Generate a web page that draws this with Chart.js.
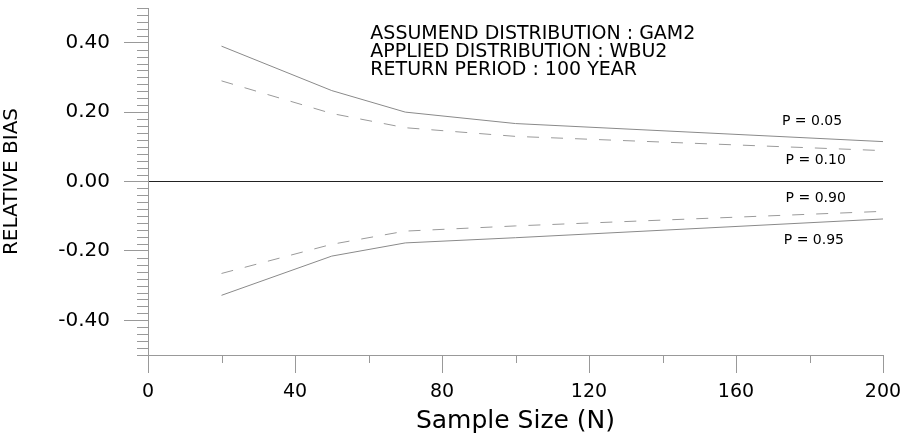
<!DOCTYPE html>
<html>
<head>
<meta charset="utf-8">
<script src="https://cdn.jsdelivr.net/npm/chart.js@4/dist/chart.umd.min.js"></script>
<style>
    html, body { margin: 0; padding: 0; background: #fff; }
    #wrap { width: 907px; height: 436px; }
</style>
</head>
<body>
<div id="wrap"><canvas id="biasChart"></canvas></div>
<script>
// Sample sizes and relative bias per non-exceedance probability
const sampleSizes = [20, 50, 70, 100, 200];
const biasP05 = [0.390, 0.262, 0.200, 0.167, 0.115];
const biasP10 = [0.290, 0.196, 0.155, 0.130, 0.089];
const biasP90 = [-0.265, -0.181, -0.143, -0.128, -0.086];
const biasP95 = [-0.328, -0.215, -0.177, -0.162, -0.108];

const curveLabels = ['P = 0.05', 'P = 0.10', 'P = 0.90', 'P = 0.95'];
const noteLines = ['ASSUMEND DISTRIBUTION : GAM2', 'APPLIED DISTRIBUTION : WBU2', 'RETURN PERIOD : 100 YEAR'];

const xTicks = [0, 40, 80, 120, 160, 200];
const yTicks = [-0.4, -0.2, 0, 0.2, 0.4];

const FONT = 'DejaVu Sans';
const AXIS_GRAY = '#999999';

function toPoints(values) {
    return sampleSizes.map((n, i) => ({ x: n, y: values[i] }));
}

function isMajorY(v) {
    return yTicks.some(t => Math.abs(t - v) < 1e-6);
}

// minor ticks, curve labels and the note block
const extrasPlugin = {
    id: 'extras',
    afterDraw(chart) {
        const ctx = chart.ctx;
        const xs = chart.scales.x;
        const ys = chart.scales.y;
        const area = chart.chartArea;
        ctx.save();
        ctx.strokeStyle = AXIS_GRAY;
        ctx.lineWidth = 1;
        ctx.beginPath();
        for (let i = -25; i <= 25; i++) {
            const v = i * 0.02;
            if (isMajorY(v)) continue;
            const py = Math.round(ys.getPixelForValue(v)) + 0.5;
            ctx.moveTo(area.left - 11, py);
            ctx.lineTo(area.left, py);
        }
        for (let n = 20; n < 200; n += 40) {
            const px = Math.round(xs.getPixelForValue(n)) + 0.5;
            ctx.moveTo(px, area.bottom);
            ctx.lineTo(px, area.bottom + 8);
        }
        ctx.stroke();

        ctx.fillStyle = '#000';
        ctx.textBaseline = 'middle';
        ctx.textAlign = 'left';
        ctx.font = '14px "' + FONT + '"';
        const labelAt = [[172.5, 0.173], [173.5, 0.060], [173.5, -0.049], [173, -0.170]];
        curveLabels.forEach((txt, i) => {
            ctx.fillText(txt, xs.getPixelForValue(labelAt[i][0]), ys.getPixelForValue(labelAt[i][1]));
        });

        ctx.font = '19px "' + FONT + '"';
        const nx = xs.getPixelForValue(60.5);
        const ny = ys.getPixelForValue(0.426);
        noteLines.forEach((txt, i) => {
            ctx.fillText(txt, nx, ny + i * 18);
        });
        ctx.restore();
    }
};

Chart.defaults.color = '#000';
Chart.defaults.font.family = FONT;

new Chart(document.getElementById('biasChart'), {
    type: 'line',
    data: {
        datasets: [
            { label: curveLabels[0], data: toPoints(biasP05), borderColor: '#8a8a8a', borderWidth: 1 },
            { label: curveLabels[1], data: toPoints(biasP10), borderColor: '#9a9a9a', borderWidth: 1, borderDash: [12, 12] },
            { label: curveLabels[2], data: toPoints(biasP90), borderColor: '#9a9a9a', borderWidth: 1, borderDash: [12, 12] },
            { label: curveLabels[3], data: toPoints(biasP95), borderColor: '#8a8a8a', borderWidth: 1 }
        ]
    },
    options: {
        responsive: true,
        maintainAspectRatio: false,
        animation: false,
        events: [],
        layout: { padding: { top: 8, right: 24, left: 0, bottom: 0 } },
        elements: { point: { radius: 0 }, line: { tension: 0 } },
        plugins: {
            legend: { display: false },
            tooltip: { enabled: false }
        },
        scales: {
            x: {
                type: 'linear',
                min: 0,
                max: 200,
                afterFit(scale) {
                    scale.height = 81;
                    scale.paddingLeft = 0;
                    scale.paddingRight = 0;
                },
                afterBuildTicks(scale) { scale.ticks = xTicks.map(v => ({ value: v })); },
                ticks: {
                    font: { size: 19 },
                    padding: 8,
                    maxRotation: 0,
                    callback: v => String(v)
                },
                grid: {
                    drawOnChartArea: false,
                    tickLength: 18,
                    tickColor: AXIS_GRAY
                },
                border: { color: AXIS_GRAY, width: 1 },
                title: {
                    display: true,
                    text: 'Sample Size (N)',
                    font: { size: 25 },
                    padding: { top: 0, bottom: 0 }
                }
            },
            y: {
                type: 'linear',
                min: -0.5,
                max: 0.5,
                afterFit(scale) {
                    scale.width = 148;
                    scale.paddingTop = 0;
                    scale.paddingBottom = 0;
                },
                afterBuildTicks(scale) { scale.ticks = yTicks.map(v => ({ value: v })); },
                ticks: {
                    font: { size: 20 },
                    padding: 14,
                    callback: v => v.toFixed(2)
                },
                grid: {
                    drawOnChartArea: true,
                    tickLength: 24,
                    tickColor: AXIS_GRAY,
                    color: c => (c.tick && Math.abs(c.tick.value) < 1e-9) ? '#222' : 'rgba(0,0,0,0)'
                },
                border: { color: AXIS_GRAY, width: 1 },
                title: {
                    display: true,
                    text: 'RELATIVE BIAS',
                    font: { size: 20 },
                    padding: { top: 0, bottom: 6 }
                }
            }
        }
    },
    plugins: [extrasPlugin]
});
</script>
</body>
</html>
